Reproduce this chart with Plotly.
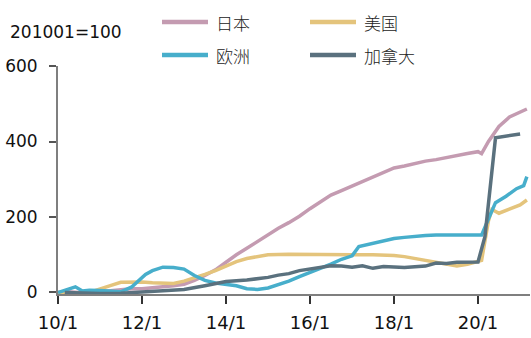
import plotly.graph_objects as go

# Index level, 2010-01 = 100 (shown as cumulative change)
japan_dates = ["2010-01", "2010-04", "2010-07", "2010-10", "2011-01", "2011-04", "2011-07", "2011-10",
               "2012-01", "2012-04", "2012-07", "2012-10", "2013-01", "2013-04", "2013-07", "2013-10",
               "2014-01", "2014-04", "2014-07", "2014-10", "2015-01", "2015-04", "2015-07", "2015-10",
               "2016-01", "2016-04", "2016-07", "2016-10", "2017-01", "2017-04", "2017-07", "2017-10",
               "2018-01", "2018-04", "2018-07", "2018-10", "2019-01", "2019-04", "2019-07", "2019-10",
               "2020-01", "2020-02", "2020-04", "2020-07", "2020-10", "2021-01", "2021-03"]
japan_vals = [0, 2, 0, 3, 2, 5, 8, 10,
              10, 12, 15, 18, 22, 32, 45, 60,
              80, 100, 117, 135, 155, 170, 185, 202,
              222, 240, 258, 270, 282, 295, 306, 318,
              330, 335, 342, 348, 352, 358, 362, 368,
              373, 368, 400, 440, 465, 478, 486]

us_dates = ["2010-01", "2010-04", "2010-07", "2010-10", "2011-01", "2011-04", "2011-07", "2011-10",
            "2012-01", "2012-04", "2012-07", "2012-10", "2013-01", "2013-04", "2013-07", "2013-10",
            "2014-01", "2014-04", "2014-07", "2014-10", "2015-01", "2015-07", "2016-01", "2016-07",
            "2017-01", "2017-07", "2017-10", "2018-01", "2018-04", "2018-07", "2018-10", "2019-01",
            "2019-04", "2019-07", "2019-10", "2020-01", "2020-02", "2020-04", "2020-05", "2020-07",
            "2020-10", "2021-01", "2021-03"]
us_vals = [0, -2, -3, 0, 8, 18, 27, 28,
           28, 26, 25, 24, 30, 38, 48, 58,
           70, 82, 90, 96, 100, 101, 100, 100,
           100, 100, 100, 98, 95, 90, 85, 80,
           75, 70, 75, 84, 85, 190, 220, 210,
           222, 232, 245]

europe_dates = ["2010-01", "2010-03", "2010-06", "2010-08", "2010-10", "2011-01", "2011-04", "2011-07",
                "2011-10", "2012-01", "2012-02", "2012-04", "2012-07", "2012-10", "2013-01", "2013-04",
                "2013-07", "2013-10", "2014-01", "2014-04", "2014-07", "2014-10", "2015-01", "2015-04",
                "2015-07", "2015-10", "2016-01", "2016-04", "2016-07", "2016-10", "2017-01", "2017-03",
                "2017-07", "2017-10", "2018-01", "2018-04", "2018-07", "2018-10", "2019-01", "2019-04",
                "2019-07", "2019-10", "2020-01", "2020-02", "2020-04", "2020-06", "2020-09", "2020-12",
                "2021-02", "2021-03"]
europe_vals = [0, 5, 15, 4, 6, 5, 3, 2,
               14, 38, 48, 58, 67, 66, 62, 45,
               32, 25, 21, 18, 10, 8, 12, 20,
               30, 42, 53, 62, 75, 88, 97, 122,
               130, 138, 143, 146, 149, 151, 152, 152,
               151, 150, 151, 152, 195, 238, 255, 275,
               283, 307]

canada_dates = ["2010-03", "2010-07", "2011-01", "2011-07", "2012-01", "2012-07", "2013-01", "2013-07",
                "2014-01", "2014-07", "2015-01", "2015-04", "2015-07", "2015-10", "2016-01", "2016-04",
                "2016-07", "2016-10", "2017-01", "2017-04", "2017-07", "2017-10", "2018-01", "2018-04",
                "2018-07", "2018-10", "2019-01", "2019-04", "2019-07", "2019-10", "2020-01", "2020-03",
                "2020-06", "2021-01"]
canada_vals = [0, -2, -3, -2, 2, 6, 8, 18,
               29, 33, 40, 46, 50, 58, 63, 66,
               71, 70, 67, 71, 64, 69, 68, 66,
               68, 70, 78, 77, 80, 81, 81, 148,
               410, 420]

series_names = ["日本", "美国", "欧洲", "加拿大"]
series_colors = ["#C49BB1", "#E4C47C", "#47AECB", "#5A717E"]

tick_vals = ["2010-01-01", "2012-01-01", "2014-01-01", "2016-01-01", "2018-01-01", "2020-01-01"]
tick_text = ["10/1", "12/1", "14/1", "16/1", "18/1", "20/1"]

data = [(japan_dates, japan_vals), (us_dates, us_vals),
        (europe_dates, europe_vals), (canada_dates, canada_vals)]

fig = go.Figure()
for (d, v), name, color in zip(data, series_names, series_colors):
    fig.add_trace(go.Scatter(x=d, y=v, name=name, mode="lines",
                             line=dict(color=color, width=3.5), showlegend=False))

W, H = 531, 338
L, R, T, B = 58, 1, 66, 43.5

# hand-drawn legend: two columns, two rows
def px_x(px):
    return (px - L) / (W - L - R)

def px_y(py):
    return 1 - (py - T) / (H - T - B)

legend_pos = [(162, 22), (310, 22), (162, 55), (310, 55)]
for (lx, ly), name, color in zip(legend_pos, series_names, series_colors):
    fig.add_shape(type="line", xref="paper", yref="paper",
                  x0=px_x(lx), x1=px_x(lx + 46), y0=px_y(ly), y1=px_y(ly),
                  line=dict(color=color, width=4.5))
    fig.add_annotation(xref="paper", yref="paper", x=px_x(lx + 52), y=px_y(ly),
                       xanchor="left", yanchor="middle", text=name, showarrow=False,
                       font=dict(family="Noto Sans CJK SC", size=17, color="#222222", weight=300))

fig.add_annotation(xref="paper", yref="paper", x=px_x(8), y=px_y(32),
                   xanchor="left", yanchor="middle", text="201001=100", showarrow=False,
                   font=dict(family="DejaVu Sans", size=17, color="#111111"))

fig.update_layout(
    width=W, height=H,
    margin=dict(l=L, r=R, t=T, b=B),
    paper_bgcolor="white", plot_bgcolor="white",
    font=dict(family="DejaVu Sans", size=17, color="#111111"),
)
fig.update_xaxes(
    type="date", range=["2010-01-01", "2021-03-28"],
    tickvals=tick_vals, ticktext=tick_text,
    showgrid=False, zeroline=False,
    showline=True, linecolor="#7f7f7f", linewidth=2,
    ticks="outside", ticklen=8, tickwidth=1.5, tickcolor="#333333",
    tickfont=dict(size=18), ticklabelstandoff=3,
)
fig.update_yaxes(
    range=[-4, 600], tickvals=[0, 200, 400, 600],
    showgrid=False, zeroline=False,
    showline=True, linecolor="#7f7f7f", linewidth=2,
    ticks="outside", ticklen=7, tickwidth=1.5, tickcolor="#555555",
    tickfont=dict(size=17), ticklabelstandoff=8,
)

fig.write_html("out.html")
